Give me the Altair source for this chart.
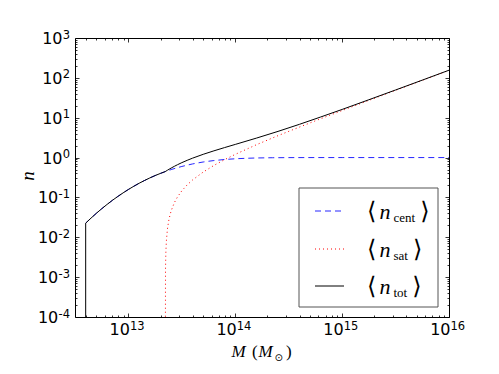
import altair as alt
import pandas as pd

# ---------------- data ----------------
logM_cent = [12.60, 12.65, 12.70, 12.75, 12.80, 12.85, 12.90, 12.95, 13.00, 13.05,
             13.10, 13.15, 13.20, 13.25, 13.30, 13.35, 13.40, 13.45, 13.50, 13.55,
             13.60, 13.65, 13.70, 13.75, 13.80, 13.90, 14.00, 14.10, 14.20, 14.35,
             14.50, 14.75, 15.00, 16.00]
logn_cent = [-1.645, -1.519, -1.398, -1.284, -1.176, -1.073, -0.977, -0.886, -0.800, -0.720,
             -0.645, -0.576, -0.511, -0.451, -0.397, -0.347, -0.301, -0.260, -0.223, -0.190,
             -0.160, -0.134, -0.111, -0.092, -0.075, -0.048, -0.030, -0.018, -0.010, -0.004,
             -0.001, 0.0, 0.0, 0.0]

logM_sat = [13.345, 13.347, 13.350, 13.355, 13.365, 13.380, 13.40, 13.43, 13.46, 13.50,
            13.55, 13.60, 13.70, 13.80, 13.90, 14.00, 14.20, 14.40, 14.60, 14.80,
            15.00, 15.25, 15.50, 15.75, 16.00]
logn_sat = [-6.0, -2.80, -2.40, -2.10, -1.79, -1.54, -1.334, -1.13, -0.983, -0.833,
            -0.684, -0.562, -0.363, -0.197, -0.052, 0.081, 0.325, 0.55, 0.765, 0.975,
            1.18, 1.435, 1.687, 1.938, 2.189]

logM_tot = [12.600, 12.600, 12.65, 12.70, 12.75, 12.80, 12.85, 12.90, 12.95, 13.00,
            13.05, 13.10, 13.15, 13.20, 13.25, 13.30, 13.345, 13.365, 13.38, 13.40,
            13.43, 13.46, 13.50, 13.55, 13.60, 13.70, 13.80, 13.90, 14.00, 14.20,
            14.40, 14.60, 14.80, 15.00, 15.25, 15.50, 15.75, 16.00]
logn_tot = [-6.0, -1.645, -1.519, -1.398, -1.284, -1.176, -1.073, -0.977, -0.886, -0.800,
            -0.720, -0.645, -0.576, -0.511, -0.451, -0.397, -0.351, -0.318, -0.293, -0.263,
            -0.219, -0.178, -0.127, -0.069, -0.015, 0.082, 0.169, 0.251, 0.330, 0.490,
            0.657, 0.834, 1.019, 1.208, 1.451, 1.696, 1.943, 2.192]

x_tick_exps = [13, 14, 15, 16]
y_tick_exps = [-4, -3, -2, -1, 0, 1, 2, 3]
legend_subs = ["cent", "sat", "tot"]


def frame(logM, logn):
    return pd.DataFrame({
        "M": [10 ** v for v in logM],
        "n": [10 ** v for v in logn],
        "i": list(range(len(logM))),
    })


df_cent = frame(logM_cent, logn_cent)
df_sat = frame(logM_sat, logn_sat)
df_tot = frame(logM_tot, logn_tot)

# ---------------- scales / axes ----------------
XMIN, XMAX = 10 ** 12.5, 1e16
YMIN, YMAX = 1e-4, 1e3
xscale = alt.Scale(type="log", domain=[XMIN, XMAX], nice=False)
yscale = alt.Scale(type="log", domain=[YMIN, YMAX], nice=False)

x_major = [10.0 ** e for e in x_tick_exps]
y_major = [10.0 ** e for e in y_tick_exps]
x_minor = [k * 10.0 ** e for e in range(12, 16) for k in range(2, 10)
           if XMIN <= k * 10.0 ** e <= XMAX]
y_minor = [k * 10.0 ** e for e in range(-4, 3) for k in range(2, 10)]

W, H = 374, 279
common = dict(domain=False, grid=False, tickColor="black", tickWidth=0.8,
              labels=False, title=None)


def tick_axis(values, size, orient):
    return alt.Axis(values=values, tickSize=size, offset=-size, orient=orient, **common)


def line(df, xa, ya, **mk):
    return alt.Chart(df).mark_line(clip=True, **mk).encode(
        x=alt.X("M:Q", scale=xscale, axis=xa),
        y=alt.Y("n:Q", scale=yscale, axis=ya),
        order="i:Q",
    )


cent = line(df_cent, tick_axis(x_major, 4, "bottom"), tick_axis(y_major, 4, "left"),
            color="#0000ff", strokeDash=[6, 4], strokeWidth=1, opacity=0.85)
sat = line(df_sat, tick_axis(x_minor, 2, "bottom"), tick_axis(y_minor, 2, "left"),
           color="#ff0000", strokeDash=[1, 3], strokeWidth=1)
tot = line(df_tot, tick_axis(x_major, 4, "top"), tick_axis(y_major, 4, "right"),
           color="black", strokeWidth=1)
ghost = alt.Chart(df_tot).mark_point(opacity=0).encode(
    x=alt.X("M:Q", scale=xscale, axis=tick_axis(x_minor, 2, "top")),
    y=alt.Y("n:Q", scale=yscale, axis=tick_axis(y_minor, 2, "right")),
)

# ---------------- tick labels (10 with raised exponent) ----------------
LBL = "DejaVu Sans"
xl = pd.DataFrame({"v": [10.0 ** e for e in x_tick_exps],
                   "sup": [str(e) for e in x_tick_exps]})
yl_pos = pd.DataFrame({"v": [10.0 ** e for e in y_tick_exps if e >= 0],
                       "sup": [str(e) for e in y_tick_exps if e >= 0]})
yl_neg = pd.DataFrame({"v": [10.0 ** e for e in y_tick_exps if e < 0],
                       "sup": [str(e) for e in y_tick_exps if e < 0]})

xenc = dict(x=alt.X("v:Q", scale=xscale, axis=None))
yenc = dict(y=alt.Y("v:Q", scale=yscale, axis=None))

label_layers = [
    alt.Chart(xl).mark_text(text="10", font=LBL, fontSize=16, align="right",
                            baseline="alphabetic", dx=1.5, color="black").encode(
        y=alt.value(H + 18), **xenc),
    alt.Chart(xl).mark_text(font=LBL, fontSize=11.5, align="left",
                            baseline="alphabetic", dx=1.5, color="black").encode(
        y=alt.value(H + 12.5), text="sup:N", **xenc),
]
for dfl, x10 in ((yl_pos, -12.5), (yl_neg, -16.7)):
    label_layers += [
        alt.Chart(dfl).mark_text(text="10", font=LBL, fontSize=16, align="right",
                                 baseline="alphabetic", dy=6, color="black").encode(
            x=alt.value(x10), **yenc),
        alt.Chart(dfl).mark_text(font=LBL, fontSize=11.5, align="left",
                                 baseline="alphabetic", dy=0.5, color="black").encode(
            x=alt.value(x10 + 0.3), text="sup:N", **yenc),
    ]

# ---------------- axis titles ----------------
one = pd.DataFrame({"k": [0]})
SERIF = "Liberation Serif"
title_layers = [
    alt.Chart(one).mark_text(text="n", font=SERIF, fontStyle="italic", fontSize=19,
                             angle=270, align="center", baseline="middle",
                             color="black").encode(x=alt.value(-47), y=alt.value(138)),
    alt.Chart(one).mark_text(text="M", font=SERIF, fontStyle="italic", fontSize=17,
                             align="left", baseline="alphabetic", color="black").encode(
        x=alt.value(156.5), y=alt.value(H + 39.5)),
    alt.Chart(one).mark_text(text="(", font=SERIF, fontSize=17,
                             align="left", baseline="alphabetic", color="black").encode(
        x=alt.value(177), y=alt.value(H + 39.5)),
    alt.Chart(one).mark_text(text="M", font=SERIF, fontStyle="italic", fontSize=17,
                             align="left", baseline="alphabetic", color="black").encode(
        x=alt.value(183.5), y=alt.value(H + 39.5)),
    alt.Chart(one).mark_text(text="⊙", font=LBL, fontSize=10,
                             align="left", baseline="middle", color="black").encode(
        x=alt.value(199.5), y=alt.value(H + 41)),
    alt.Chart(one).mark_text(text=")", font=SERIF, fontSize=17,
                             align="left", baseline="alphabetic", color="black").encode(
        x=alt.value(211), y=alt.value(H + 39.5)),
]

# ---------------- legend ----------------
leg_layers = [
    alt.Chart(one).mark_rect(fill="white", stroke="#555555", strokeWidth=1).encode(
        x=alt.value(224), x2=alt.value(363), y=alt.value(150), y2=alt.value(269))
]
styles = [dict(color="#0000ff", strokeDash=[6, 4], opacity=0.85),
          dict(color="#ff0000", strokeDash=[1, 3]),
          dict(color="black")]
rows = [173, 211, 248]
times_w = {"c": 0.444, "e": 0.444, "n": 0.5, "t": 0.278, "s": 0.389, "a": 0.444, "o": 0.5}
for sub, st, ry in zip(legend_subs, styles, rows):
    subw = sum(times_w[ch] for ch in sub) * 13
    leg_layers += [
        alt.Chart(one).mark_rule(strokeWidth=1, **st).encode(
            x=alt.value(240), x2=alt.value(269), y=alt.value(ry)),
        alt.Chart(one).mark_text(text="⟨", font=LBL, fontSize=24,
                                 align="left", baseline="middle", color="black").encode(
            x=alt.value(292), y=alt.value(ry + 1)),
        alt.Chart(one).mark_text(text="n", font=SERIF, fontStyle="italic",
                                 fontSize=22, align="left", baseline="alphabetic",
                                 color="black").encode(
            x=alt.value(304.5), y=alt.value(ry + 8)),
        alt.Chart(one).mark_text(text=sub, font=SERIF, fontSize=13,
                                 align="left", baseline="alphabetic", color="black").encode(
            x=alt.value(318.5), y=alt.value(ry + 11)),
        alt.Chart(one).mark_text(text="⟩", font=LBL, fontSize=24,
                                 align="left", baseline="middle", color="black").encode(
            x=alt.value(318.5 + subw + 5), y=alt.value(ry + 1)),
    ]

chart = alt.layer(cent, sat, tot, ghost, *label_layers, *title_layers, *leg_layers).resolve_axis(
    x="independent", y="independent"
).properties(
    width=W, height=H,
    autosize=alt.AutoSizeParams(type="none"),
    padding={"left": 67, "top": 30, "right": 42, "bottom": 50},
    background="white",
).configure_view(stroke="black", strokeWidth=1)

chart.save("out.html", embed_options={"renderer": "svg", "actions": False})
